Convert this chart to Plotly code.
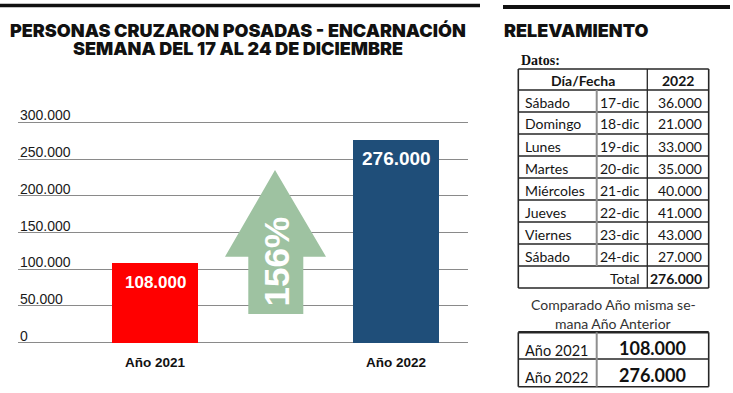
import plotly.graph_objects as go

W, H = 733, 393

# ---------------- data ----------------
years = ["Año 2021", "Año 2022"]
totals = [108000, 276000]
bar_colors = ["#ff0000", "#1f4e79"]
growth_label = "156%"
y_ticks = [0, 50000, 100000, 150000, 200000, 250000, 300000]

days = ["Sábado", "Domingo", "Lunes", "Martes", "Miércoles", "Jueves", "Viernes", "Sábado"]
dates = ["17-dic", "18-dic", "19-dic", "20-dic", "21-dic", "22-dic", "23-dic", "24-dic"]
values_2022 = [36000, 21000, 33000, 35000, 40000, 41000, 43000, 27000]
compare_labels = ["Año 2021", "Año 2022"]
compare_values = [108000, 276000]

title_lines = ["PERSONAS CRUZARON POSADAS - ENCARNACIÓN", "SEMANA DEL 17 AL 24 DE DICIEMBRE"]


def fmt(v):
    return f"{v:,}".replace(",", ".")


def X(px):
    return px / W


def Y(py):
    return 1 - py / H


HEAD = "Inter"
SANS = "Liberation Sans"
TBL = "Lato"

fig = go.Figure()

fig.add_trace(go.Bar(
    x=years, y=totals, marker_color=bar_colors, marker_line_width=0,
    width=0.357, hoverinfo="skip",
))

# chart axes: pixel positions of plot area
y0_px, y300_px = 342.7, 122.3
px_per_unit = (y0_px - y300_px) / 300000
y_lo, y_hi = -12000, 325000
x_left_px, x_right_px = 18, 468
c0_px, c1_px = 155, 396
unit = c1_px - c0_px

fig.update_layout(
    width=W, height=H, autosize=False,
    margin=dict(l=0, r=0, t=0, b=0),
    paper_bgcolor="white", plot_bgcolor="white",
    showlegend=False,
    bargap=0,
    xaxis=dict(
        domain=[X(x_left_px), X(x_right_px)],
        range=[-(c0_px - x_left_px) / unit, 1 + (x_right_px - c1_px) / unit],
        showgrid=False, zeroline=False, showline=False, ticks="",
        tickfont=dict(family=SANS, size=13.5, color="#111", weight="bold"),
        ticklabelstandoff=1,
        fixedrange=True,
    ),
    yaxis=dict(
        domain=[Y(y0_px - y_lo * px_per_unit), Y(y300_px - (y_hi - 300000) * px_per_unit)],
        range=[y_lo, y_hi],
        tickvals=y_ticks, showticklabels=False,
        showgrid=True, gridcolor="#8a8a8a", gridwidth=1,
        zeroline=False, showline=False, ticks="",
        fixedrange=True,
    ),
)

shapes = []
annotations = []

# y tick labels (sit just above their gridlines, left-aligned)
for v in y_ticks:
    annotations.append(dict(text=fmt(v), x=X(x_left_px), y=v, xref="paper", yref="y",
                            xanchor="left", yanchor="middle", yshift=7, showarrow=False,
                            font=dict(family=SANS, size=14, color="#1a1a1a")))

# value labels inside the bars
for yr, v, fs in zip(years, totals, [17, 19]):
    annotations.append(dict(text=f"<b>{fmt(v)}</b>", x=yr, y=v, xref="x", yref="y",
                            xanchor="center", yanchor="middle", yshift=-19, showarrow=False,
                            font=dict(family=SANS, size=fs, color="white")))

# top rules
shapes.append(dict(type="line", xref="paper", yref="paper", x0=X(0), x1=X(480), y0=Y(5.5), y1=Y(5.5),
                   line=dict(color="#111", width=3.5)))
shapes.append(dict(type="line", xref="paper", yref="paper", x0=X(503), x1=X(730), y0=Y(7), y1=Y(7),
                   line=dict(color="#111", width=4)))

# titles
for i, t in enumerate(title_lines):
    annotations.append(dict(text=t, x=X(238), y=Y(31 + 18 * i), xref="paper", yref="paper",
                            xanchor="center", yanchor="middle", showarrow=False,
                            font=dict(family=HEAD, size=18, color="#111", weight=900)))
annotations.append(dict(text="RELEVAMIENTO", x=X(502), y=Y(30), xref="paper", yref="paper",
                        xanchor="left", yanchor="middle", showarrow=False,
                        font=dict(family=HEAD, size=18, color="#111", weight=900)))

# growth arrow
arrow_pts = [(275, 170), (326, 256.7), (303.3, 256.7), (303.3, 314), (248.3, 314), (248.3, 256.7), (225, 256.7)]
path = "M " + " L ".join(f"{X(px)},{Y(py)}" for px, py in arrow_pts) + " Z"
shapes.append(dict(type="path", xref="paper", yref="paper", path=path,
                   fillcolor="#9ec2a1", line=dict(width=0), layer="above"))
annotations.append(dict(text=f"<b>{growth_label}</b>", x=X(275.5), y=Y(262), xref="paper", yref="paper",
                        xanchor="center", yanchor="middle", textangle=-90, showarrow=False,
                        font=dict(family=SANS, size=35, color="white")))

# ---------------- right-hand table ----------------
annotations.append(dict(text="<b>Datos:</b>", x=X(519), y=Y(60), xref="paper", yref="paper",
                        xanchor="left", yanchor="middle", showarrow=False,
                        font=dict(family="Liberation Serif", size=14, color="#111")))

tx0, tx1, tx2, tx3 = 518.3, 596.7, 647.3, 708.7
top = 69
hdr_h = 21
row_h = 22
n = len(days)
row_tops = [top + hdr_h + row_h * i for i in range(n + 1)]  # includes total row top
bottom = row_tops[-1] + row_h
dark = "#262626"


def hline(y, x0=tx0, x1=tx3, color=dark, w=1.3):
    shapes.append(dict(type="line", xref="paper", yref="paper", x0=X(x0), x1=X(x1), y0=Y(y), y1=Y(y),
                       line=dict(color=color, width=w)))


def vline(x, y0, y1, color=dark, w=1.3):
    shapes.append(dict(type="line", xref="paper", yref="paper", x0=X(x), x1=X(x), y0=Y(y0), y1=Y(y1),
                       line=dict(color=color, width=w)))


hline(top, w=1.6)
for yy in row_tops:
    hline(yy)
hline(bottom, w=1.6)
vline(tx0, top, bottom, w=1.6)
vline(tx3, top, bottom, w=1.6)
vline(tx2, top, bottom)
vline(tx1, row_tops[0], row_tops[-1], color="#8f8f8f", w=2)


def txt(s, x, y, anchor, size=14, bold=False, color="#151515", family=TBL):
    annotations.append(dict(text=(f"<b>{s}</b>" if bold else s), x=X(x), y=Y(y), xref="paper", yref="paper",
                            xanchor=anchor, yanchor="middle", showarrow=False,
                            font=dict(family=family, size=size, color=color)))


txt("Día/Fecha", (tx0 + tx2) / 2, top + hdr_h / 2 + 1, "center", bold=True)
txt("2022", (tx2 + tx3) / 2, top + hdr_h / 2 + 1, "center", bold=True)
for i in range(n):
    cy = row_tops[i] + row_h / 2 + 1
    txt(days[i], 523, cy, "left")
    txt(dates[i], 641.5, cy, "right")
    txt(fmt(values_2022[i]), 703.5, cy, "right")
cy = row_tops[-1] + row_h / 2 + 1
txt("Total", 641.5, cy, "right")
txt(fmt(sum(values_2022)), 703.5, cy, "right", bold=True)

txt("Comparado Año misma se-", 613, 304, "center", color="#333")
txt("mana Año Anterior", 613, 323, "center", color="#333")

ct_top, ct_mid, ct_bot = 332.3, 359, 386.7
hline(ct_top, w=2.5)
hline(ct_mid)
hline(ct_bot, w=1.6)
vline(tx0, ct_top, ct_bot, w=1.6)
vline(tx3, ct_top, ct_bot, w=1.6)
vline(tx1, ct_top, ct_bot, color="#8f8f8f", w=2)
c_rows = [(ct_top, ct_mid), (ct_mid, ct_bot)]
for (a, b), lab, val in zip(c_rows, compare_labels, compare_values):
    c = (a + b) / 2
    txt(lab, 523, c + 4.5, "left", size=14.5)
    txt(fmt(val), 652, c + 2, "center", size=18, bold=True, color="#111")

fig.update_layout(shapes=shapes, annotations=annotations)

fig.write_html("out.html", config={"displayModeBar": False},
               post_script="document.body.style.margin='0';document.body.style.overflow='hidden';")
